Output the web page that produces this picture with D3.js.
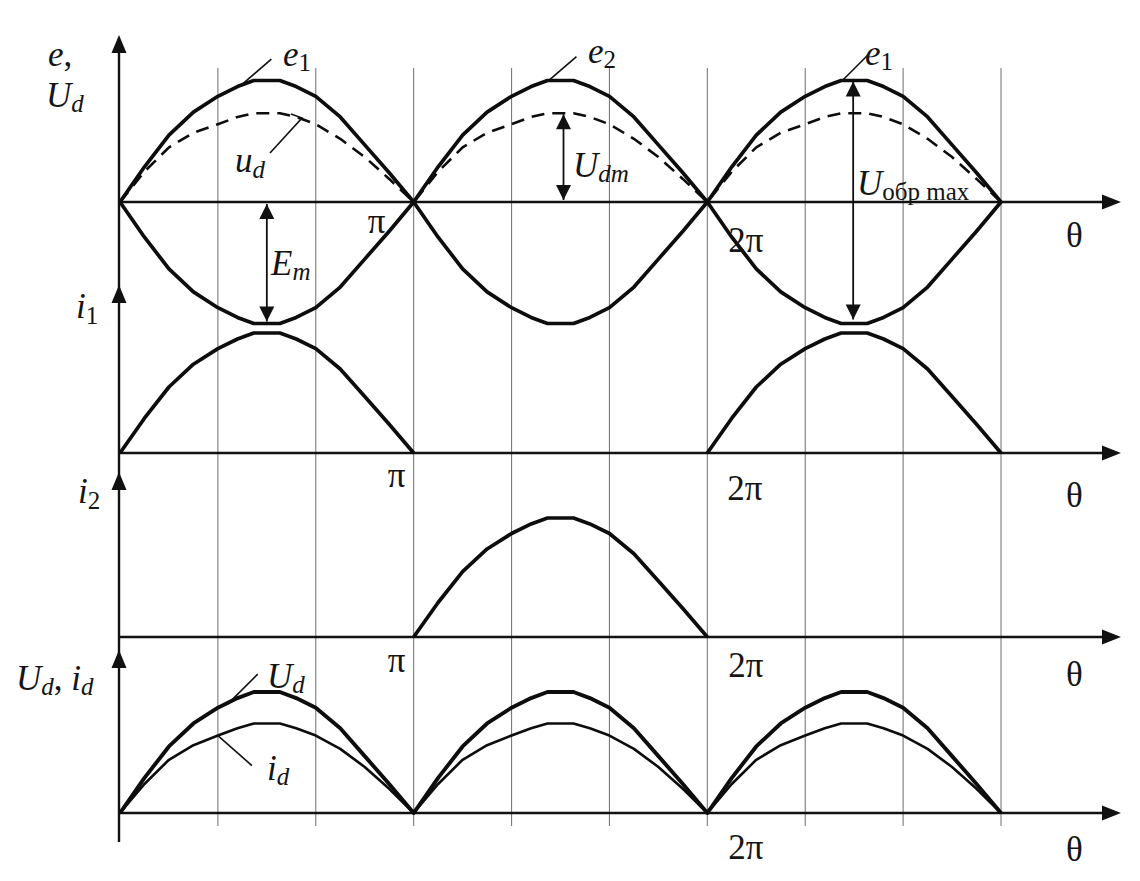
<!DOCTYPE html>
<html><head><meta charset="utf-8">
<script src="https://cdn.jsdelivr.net/npm/d3@7"></script>
<style>
body{margin:0;background:#fff}
svg{display:block;background:#fff}
text{font-family:'Liberation Serif','Times New Roman',serif;fill:#151515}
</style>
</head><body>
<svg id="c" width="1140" height="881"></svg>
<script>
// ---- data (θ in degrees, values normalised to Em) ----
const thetaDeg = [0,15,30,45,60,72,82,98,108,120,135,150,165,180,195,210,225,240,252,262,278,288,300,315,330,345,360,375,390,405,420,432,442,458,468,480,495,510,525,540];
const e1 = [0,.29,.55,.74,.87,.95,1,1,.95,.87,.70,.47,.24,0,-.29,-.55,-.74,-.87,-.95,-1,-1,-.95,-.87,-.70,-.47,-.24,0,.29,.55,.74,.87,.95,1,1,.95,.87,.70,.47,.24,0];
const e2 = [0,-.29,-.55,-.74,-.87,-.95,-1,-1,-.95,-.87,-.70,-.47,-.24,0,.29,.55,.74,.87,.95,1,1,.95,.87,.70,.47,.24,0,-.29,-.55,-.74,-.87,-.95,-1,-1,-.95,-.87,-.70,-.47,-.24,0];
const ud = [0,.25,.45,.57,.64,.70,.73,.73,.70,.64,.52,.37,.19,0,.25,.45,.57,.64,.70,.73,.73,.70,.64,.52,.37,.19,0,.25,.45,.57,.64,.70,.73,.73,.70,.64,.52,.37,.19,0];
const i1 = [0,.29,.55,.74,.87,.95,1,1,.95,.87,.70,.47,.24,0,null,null,null,null,null,null,null,null,null,null,null,null,0,.29,.55,.74,.87,.95,1,1,.95,.87,.70,.47,.24,0];
const i2 = [null,null,null,null,null,null,null,null,null,null,null,null,null,0,.29,.55,.74,.87,.95,1,1,.95,.87,.70,.47,.24,0,null,null,null,null,null,null,null,null,null,null,null,null,null];
const Ud = [0,.29,.55,.74,.87,.95,1,1,.95,.87,.70,.47,.24,0,.29,.55,.74,.87,.95,1,1,.95,.87,.70,.47,.24,0,.29,.55,.74,.87,.95,1,1,.95,.87,.70,.47,.24,0];
const id = [0,.24,.44,.56,.64,.70,.74,.74,.70,.64,.53,.38,.20,0,.24,.44,.56,.64,.70,.74,.74,.70,.64,.53,.38,.20,0,.24,.44,.56,.64,.70,.74,.74,.70,.64,.53,.38,.20,0];
const gridDeg = [60,120,180,240,300,360,420,480,540];
const tickLabels1 = [{deg:180,text:"π"},{deg:360,text:"2π"}];
const tickLabels2 = [{deg:180,text:"π"},{deg:360,text:"2π"}];
const tickLabels3 = [{deg:180,text:"π"},{deg:360,text:"2π"}];
const tickLabels4 = [{deg:360,text:"2π"}];
const axisName = "θ";

// ---- layout ----
const svg = d3.select("#c");
const x = d3.scaleLinear().domain([0,540]).range([120,1001]);
const y1 = d3.scaleLinear().domain([0,1]).range([202,80.5]);
const y2 = d3.scaleLinear().domain([0,1]).range([453,333]);
const y3 = d3.scaleLinear().domain([0,1]).range([637,518]);
const y4 = d3.scaleLinear().domain([0,1]).range([813,692]);
const AX = 119, ARROW_X = 1121;
const FS = 35, SFS = 25;

// grid
svg.append("g").selectAll("line").data(gridDeg).join("line")
  .attr("x1",d=>x(d)).attr("x2",d=>x(d)).attr("y1",68).attr("y2",826)
  .attr("stroke","#7a7a7a").attr("stroke-width",1.1);

function arrowHead(tx,ty,dir,len,hw){
  let p;
  if(dir==='up') p=[[tx,ty],[tx-hw,ty+len],[tx+hw,ty+len]];
  else if(dir==='down') p=[[tx,ty],[tx-hw,ty-len],[tx+hw,ty-len]];
  else p=[[tx,ty],[tx-len,ty-hw],[tx-len,ty+hw]];
  svg.append("path").attr("d","M"+p.map(q=>q.join(",")).join("L")+"Z").attr("fill","#111");
}

// vertical axis
svg.append("line").attr("x1",AX).attr("x2",AX).attr("y1",40).attr("y2",842)
  .attr("stroke","#111").attr("stroke-width",2.4);
[35,285,472,650].forEach(t=>arrowHead(AX,t,'up',18,7.5));

// horizontal axes
[y1,y2,y3,y4].forEach(ys=>{
  svg.append("line").attr("x1",AX).attr("x2",ARROW_X-10).attr("y1",ys(0)).attr("y2",ys(0))
    .attr("stroke","#111").attr("stroke-width",2.4);
  arrowHead(ARROW_X,ys(0),'right',19,7.5);
});

// curves
const pts = arr => thetaDeg.map((t,i)=>({t,v:arr[i]}));
function curve(arr, ys, w, dash){
  const line = d3.line().defined(d=>d.v!==null).x(d=>x(d.t)).y(d=>ys(d.v));
  svg.append("path").attr("d",line(pts(arr))).attr("fill","none")
    .attr("stroke","#0d0d0d").attr("stroke-width",w).attr("stroke-linejoin","round")
    .attr("stroke-dasharray",dash||null);
}
curve(e1,y1,3.7);
curve(e2,y1,3.7);
curve(ud,y1,2.6,"13,8");
curve(i1,y2,3.7);
curve(i2,y3,3.7);
curve(Ud,y4,3.9);
curve(id,y4,2.6);

// text helper
function label(xp,yp,parts,anchor){
  const t = svg.append("text").attr("x",xp).attr("y",yp).attr("text-anchor",anchor||"start");
  parts.forEach(p=>{
    const ts = t.append("tspan").text(p.t)
      .attr("font-size",p.sub?SFS:(p.fs||FS))
      .attr("font-style",p.it?"italic":"normal");
    if(p.sub) ts.attr("dy",p.dy!=null?p.dy:6);
    if(p.back) ts.attr("dy",p.back);
  });
  return t;
}

// tick labels
function ticks(list, ys, offs){
  list.forEach(d=>{
    const o = offs[d.text];
    label(x(d.deg)+o[0], ys(0)+o[1], [{t:d.text}]);
  });
}
ticks(tickLabels1,y1,{"π":[-46,31],"2π":[21,50]});
ticks(tickLabels2,y2,{"π":[-26,34],"2π":[20,47]});
ticks(tickLabels3,y3,{"π":[-26,35],"2π":[21,40]});
ticks(tickLabels4,y4,{"2π":[21,46]});
[[y1,45],[y2,54],[y3,49],[y4,48]].forEach(([ys,dy])=>label(1066,ys(0)+dy,[{t:axisName}]));

// axis names
label(48,66,[{t:"e",it:true},{t:","}]);
label(46,107,[{t:"U",it:true},{t:"d",it:true,sub:true,dy:5}]);
label(76,318,[{t:"i",it:true},{t:"1",sub:true,dy:6}]);
label(78,503,[{t:"i",it:true},{t:"2",sub:true,dy:6}]);
label(16,690,[{t:"U",it:true},{t:"d",it:true,sub:true,dy:5},{t:", ",back:-5},{t:"i",it:true},{t:"d",it:true,sub:true,dy:5}]);

// leaders
function leader(points){
  svg.append("path").attr("d",d3.line()(points)).attr("fill","none")
    .attr("stroke","#111").attr("stroke-width",1.6);
}
leader([[x(75),y1(.97)],[x(75)+29,y1(.97)-25]]);
label(283,66,[{t:"e",it:true},{t:"1",sub:true,dy:5}]);
leader([[x(262),y1(.99)],[x(262)+29,y1(.99)-25]]);
label(588,63,[{t:"e",it:true},{t:"2",sub:true,dy:5}]);
leader([[x(442),y1(.99)],[x(442)+27,y1(.99)-27]]);
label(865,65,[{t:"e",it:true},{t:"1",sub:true,dy:5}]);
leader([[270,153],[302,118],[291,114]]);
label(235,172,[{t:"u",it:true},{t:"d",it:true,sub:true,dy:6}]);
leader([[x(66),y4(.9)],[x(66)+30,y4(.9)-30]]);
label(267,688,[{t:"U",it:true},{t:"d",it:true,sub:true,dy:5}]);
leader([[x(60),y4(.64)],[x(60)+34,y4(.64)+30]]);
label(267,780,[{t:"i",it:true},{t:"d",it:true,sub:true,dy:5}]);

// measurement arrows
function dblArrow(xp, yTop, yBot){
  svg.append("line").attr("x1",xp).attr("x2",xp).attr("y1",yTop).attr("y2",yBot)
    .attr("stroke","#111").attr("stroke-width",1.8);
  arrowHead(xp,yTop,'up',15,7.5);
  arrowHead(xp,yBot,'down',15,7.5);
}
dblArrow(x(90), y1(0)+2, y1(-1)-2);
label(271,275,[{t:"E",it:true},{t:"m",it:true,sub:true,dy:5}]);
dblArrow(x(270)+3, y1(.73)+1, y1(0)-2);
label(573,177,[{t:"U",it:true},{t:"dm",it:true,sub:true,dy:5}]);
dblArrow(x(450)-1, y1(1)+1, y1(-1)-4);
label(857,195,[{t:"U",it:true},{t:"обр max",sub:true,dy:5}]);
</script>
</body></html>
